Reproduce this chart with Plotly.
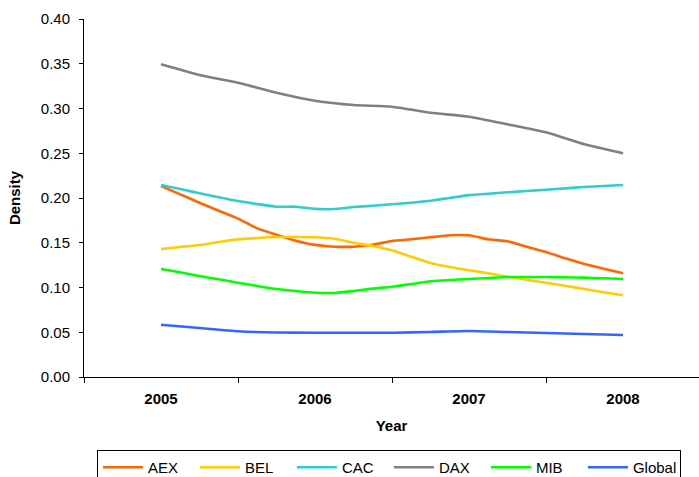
import plotly.graph_objects as go

# Sampling positions (fractional years)
x_eighth = [2005 + k / 8 for k in range(25)]
x_quarter = [2005 + k / 4 for k in range(13)]

# Density per index
aex = [0.2134, 0.2041, 0.1947, 0.1858, 0.1769, 0.1661, 0.1590, 0.1523, 0.1476,
       0.1456, 0.1456, 0.1478, 0.1520, 0.1539, 0.1561, 0.1583, 0.1583,
       0.1539, 0.1516, 0.1456, 0.1397, 0.1326, 0.1263, 0.1210, 0.1159]
bel = [0.1430, 0.1453, 0.1475, 0.1508, 0.1539, 0.1553, 0.1564, 0.1564, 0.1562,
       0.1545, 0.1501, 0.1464, 0.1416, 0.1344, 0.1274, 0.1229, 0.1192,
       0.1159, 0.1121, 0.1087, 0.1054, 0.1020, 0.0983, 0.0946, 0.0913]
cac = [0.2145, 0.2101, 0.2053, 0.2008, 0.1966, 0.1933, 0.1903, 0.1903, 0.1879,
       0.1877, 0.1899, 0.1914, 0.1930, 0.1947, 0.1970, 0.2000, 0.2032,
       0.2048, 0.2064, 0.2078, 0.2093, 0.2108, 0.2123, 0.2134, 0.2145]
mib = [0.1207, 0.1170, 0.1128, 0.1092, 0.1054, 0.1017, 0.0983, 0.0961, 0.0942,
       0.0939, 0.0961, 0.0987, 0.1009, 0.1039, 0.1069, 0.1084, 0.1095,
       0.1106, 0.1117, 0.1117, 0.1117, 0.1114, 0.1110, 0.1103, 0.1095]
dax = [0.3494, 0.3374, 0.3288, 0.3177, 0.3087, 0.3039, 0.3020, 0.2953, 0.2908,
       0.2823, 0.2734, 0.2600, 0.2499]
glob = [0.0584, 0.0547, 0.0511, 0.0497, 0.0495, 0.0495, 0.0495, 0.0503, 0.0514,
        0.0503, 0.0492, 0.0480, 0.0469]

years = [2005, 2006, 2007, 2008]
year_labels = ["2005", "2006", "2007", "2008"]

series = [
    ("AEX", x_eighth, aex, "#FF6600"),
    ("BEL", x_eighth, bel, "#FFCC00"),
    ("CAC", x_eighth, cac, "#33CCCC"),
    ("DAX", x_quarter, dax, "#808080"),
    ("MIB", x_eighth, mib, "#00FF00"),
    ("Global", x_quarter, glob, "#3366FF"),
]

FONT = "Arial, 'Liberation Sans', sans-serif"
FS = 15

fig = go.Figure()
for name, xs, ys, color in series:
    fig.add_trace(go.Scatter(
        x=xs, y=ys, name=name, mode="lines",
        line=dict(color=color, width=2.6, shape="spline", smoothing=0.5),
    ))

fig.update_layout(
    width=699, height=477,
    margin=dict(l=84, r=0, t=19, b=100, autoexpand=False),
    paper_bgcolor="white", plot_bgcolor="white",
    font=dict(family=FONT, size=FS, color="black"),
    legend=dict(
        orientation="h", x=0.021, xanchor="left", y=-0.204, yanchor="top",
        bordercolor="black", borderwidth=1, bgcolor="white",
        itemwidth=40,
        entrywidth=42, entrywidthmode="pixels",
        font=dict(family=FONT, size=FS, color="black"),
        tracegroupgap=0,
    ),
    xaxis=dict(
        range=[2004.5, 2004.5 + 615 / 154],
        tickvals=years, ticktext=year_labels,
        ticks="outside", ticklen=0, tickcolor="rgba(0,0,0,0)",
        tickfont=dict(family=FONT, size=FS, color="black", weight="bold"),
        ticklabelstandoff=8,
        minor=dict(tickvals=[2004.5, 2005.5, 2006.5, 2007.5, 2008.5],
                   ticks="outside", ticklen=5, tickcolor="black", tickwidth=1,
                   showgrid=False),
        showline=True, linecolor="black", linewidth=1,
        showgrid=False, zeroline=False, automargin=False,
        title=dict(text="<b>Year</b>", font=dict(family=FONT, size=FS, color="black"),
                   standoff=14),
    ),
    yaxis=dict(
        range=[0, 0.40], dtick=0.05, tickformat=".2f",
        ticks="outside", ticklen=4, tickcolor="black", tickwidth=1,
        ticklabelstandoff=6,
        tickfont=dict(family=FONT, size=FS, color="black"),
        showline=True, linecolor="black", linewidth=1,
        showgrid=False, zeroline=False, automargin=False,
        title=dict(text="<b>Density</b>", font=dict(family=FONT, size=FS, color="black"),
                   standoff=16),
    ),
)

fig.write_html("out.html")
